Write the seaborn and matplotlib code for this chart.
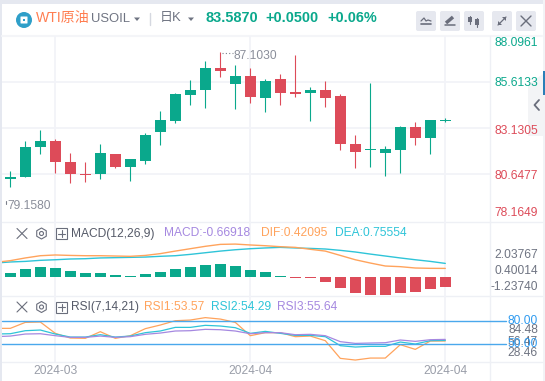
import matplotlib
matplotlib.use('Agg')
import numpy as np
import pandas as pd
import matplotlib.pyplot as plt
import seaborn as sns
from matplotlib.patches import FancyBboxPatch, Polygon, Circle, Rectangle, RegularPolygon

# candles
opens = [80.41, 80.50, 82.12, 82.45, 81.31, 80.67, 80.67, 81.75, 81.04, 81.37,
         82.93, 83.53, 84.93, 85.20, 86.39, 85.52, 85.95, 84.77, 85.79, 85.09,
         85.04, 85.20, 84.88, 82.29, 81.96, 81.80, 81.96, 83.20, 82.61, 83.54]
closes = [80.50, 82.12, 82.45, 81.31, 80.67, 80.63, 81.80, 81.04, 81.48, 82.77,
          83.58, 84.98, 85.20, 86.39, 86.22, 85.95, 84.82, 85.68, 85.04, 84.98,
          85.20, 84.77, 82.29, 81.85, 82.02, 82.02, 83.20, 82.61, 83.58, 83.60]
highs = [80.83, 82.45, 83.04, 82.55, 81.80, 81.31, 82.29, 81.75, 81.48, 82.88,
         84.07, 85.04, 85.74, 86.76, 87.25, 86.55, 86.39, 85.79, 86.06, 87.09,
         85.36, 85.68, 84.98, 82.77, 85.58, 82.18, 83.26, 83.47, 83.58, 83.69]
lows = [79.98, 80.50, 81.75, 80.72, 80.18, 80.23, 80.40, 80.99, 80.29, 81.21,
        82.23, 83.42, 84.39, 84.23, 85.90, 84.17, 84.50, 84.01, 84.39, 84.82,
        83.53, 84.28, 81.96, 80.99, 81.04, 80.56, 80.72, 82.23, 81.75, 83.47]

# MACD
macd_hist = [0.246, 0.536, 0.67, 0.603, 0.402, 0.268, 0.268, 0.134, 0.067, 0.2,
             0.335, 0.536, 0.67, 0.804, 0.871, 0.737, 0.469, 0.335, 0.067, -0.045,
             -0.09, -0.335, -0.737, -1.07, -1.205, -1.205, -1.07, -1.0, -0.80, -0.669]
# lines start one day before the first candle
dif = [0.826, 0.94, 1.12, 1.27, 1.32, 1.29, 1.27, 1.27, 1.25, 1.23, 1.29,
       1.41, 1.58, 1.74, 1.90, 2.03, 2.05, 1.99, 1.94, 1.875, 1.83,
       1.70, 1.58, 1.29, 1.00, 0.78, 0.58, 0.536, 0.446, 0.424, 0.42]
dea = [0.78, 0.85, 0.89, 0.96, 1.00, 1.05, 1.07, 1.12, 1.14, 1.16, 1.18,
       1.23, 1.27, 1.36, 1.47, 1.58, 1.67, 1.74, 1.79, 1.83, 1.79,
       1.76, 1.72, 1.63, 1.52, 1.38, 1.25, 1.12, 1.00, 0.89, 0.755]

# RSI
rsi1 = [70.3, 70.3, 78.2, 78.7, 63.7, 57.5, 57.1, 65.9, 57.1, 60.6, 69.9,
        74.7, 80.4, 81.3, 84.5, 82.6, 78.2, 60.6, 64.6, 64.6, 59.3,
        60.1, 54.0, 30.6, 28.4, 31.0, 31.0, 48.7, 42.5, 53.5, 53.6]
rsi2 = [62.8, 63.2, 67.2, 68.1, 62.8, 58.8, 58.8, 61.9, 58.8, 60.1, 64.6,
        66.8, 71.6, 71.6, 74.3, 73.4, 71.2, 63.7, 66.3, 63.7, 61.0,
        61.0, 59.3, 47.4, 45.6, 46.5, 46.5, 52.2, 49.6, 54.0, 54.3]
rsi3 = [59.3, 60.1, 62.8, 63.2, 60.6, 58.4, 58.4, 60.1, 58.4, 59.3, 62.4,
        64.1, 66.8, 67.2, 69.0, 68.5, 66.8, 63.2, 64.6, 64.6, 61.9,
        62.4, 60.6, 52.7, 50.4, 50.9, 51.3, 54.9, 53.1, 55.3, 55.7]

price_grid = [85.6133, 83.1305, 80.6477]
price_labels = ['88.0961', '85.6133', '83.1305', '80.6477', '78.1649']
macd_labels = ['2.03767', '0.40014', '-1.23740']
rsi_labels = ['84.48', '56.47', '28.46']
rsi_levels = [80, 50]
date_ticks = [3, 16, 29]
date_labels = ['2024-03', '2024-04', '2024-04']

GREEN = '#0aa88c'
RED = '#dd4b59'
ORANGE = '#ffa35c'
CYAN = '#2ec4d8'
PURPLE = '#a588e0'
GRID = '#f2f3f8'
GREY = '#6f7482'
LIGHT = '#9a9ea9'
BLUE = '#4aa8ec'

sns.set_theme(style='white')
plt.rcParams['font.family'] = ['Liberation Sans', 'Noto Sans CJK SC', 'DejaVu Sans']

W, H = 545, 381
fig = plt.figure(figsize=(W / 100, H / 100), dpi=100, facecolor='white')


def px(v):
    # font size in points for a height given in pixels
    return v * 72 / 100


def panel(top, bottom, ylim):
    ax = fig.add_axes([2 / W, 1 - bottom / H, 488 / W, (bottom - top) / H])
    ax.set_xlim((2 - 10.3) / 15, (490 - 10.3) / 15)
    ax.set_ylim(*ylim)
    ax.patch.set_alpha(0)
    for s in ax.spines.values():
        s.set_visible(False)
    ax.set_yticks([])
    ax.set_xticks(date_ticks)
    ax.set_xticklabels([])
    ax.tick_params(length=0)
    for t in date_ticks:
        ax.axvline(t, color=GRID, lw=1.3, zorder=0)
    ax.set_xlabel('')
    ax.set_ylabel('')
    return ax


# page behind the card and all the furniture, in pixel coordinates
bg = fig.add_axes([0, 0, 1, 1], zorder=-1)
bg.set_xlim(0, W)
bg.set_ylim(H, 0)
bg.axis('off')
bg.add_patch(Rectangle((0, 0), W, 4, color='#e5e8f0', lw=0))
bg.add_patch(Rectangle((0, 0), 2, H, color='#e5e8f0', lw=0))
bg.add_patch(Rectangle((542.5, 0), 3, H, color='#f2f3f6', lw=0))
bg.add_patch(Rectangle((543, 71), 2, 24, color='#2a7fb8', lw=0))
bg.plot([2, 542], [35.5, 35.5], color='#f4f5f8', lw=1.5)
for y in [222.3, 295.7, 362.3]:
    bg.plot([2, 542], [y, y], color='#eef0f5', lw=1)
bg.plot([490, 490], [36, H], color='#eef0f5', lw=1)

# price panel
ax1 = panel(36, 222.3, (78.06, 88.11))
for g in price_grid:
    ax1.axhline(g, color=GRID, lw=1.3, zorder=0)
days = np.arange(len(opens))
col = [GREEN if c >= o else RED for o, c in zip(opens, closes)]
ax1.vlines(days, lows, highs, colors=col, lw=0.8, zorder=2)
ax1.bar(days, np.abs(np.array(closes) - np.array(opens)), bottom=np.minimum(opens, closes),
        width=0.73, color=col, lw=0, zorder=3)

# MACD panel
ax2 = panel(222.3, 295.7, (-1.41, 3.51))
hist = np.array(macd_hist)
# the histogram sits a little under the zero of the two lines in the original
ax2.bar(days, hist, bottom=-0.156, width=0.73, lw=0,
        color=[GREEN if h >= 0 else RED for h in hist], zorder=2)
macd_df = pd.DataFrame({'day': np.arange(-1, 30), 'DIF': dif, 'DEA': dea})
sns.lineplot(data=macd_df, x='day', y='DEA', ax=ax2, color=CYAN, lw=1, zorder=3)
sns.lineplot(data=macd_df, x='day', y='DIF', ax=ax2, color=ORANGE, lw=1, zorder=3)
ax2.set_xlabel('')
ax2.set_ylabel('')

# RSI panel
ax3 = panel(295.7, 362.3, (25.4, 113.5))
rsi_df = pd.DataFrame({'day': np.arange(-1, 30), 'RSI1': rsi1, 'RSI2': rsi2, 'RSI3': rsi3})
sns.lineplot(data=rsi_df, x='day', y='RSI1', ax=ax3, color=ORANGE, lw=0.9, zorder=3)
sns.lineplot(data=rsi_df, x='day', y='RSI2', ax=ax3, color=CYAN, lw=0.9, zorder=3)
sns.lineplot(data=rsi_df, x='day', y='RSI3', ax=ax3, color=PURPLE, lw=0.9, zorder=3)
for lv in rsi_levels:
    ax3.plot([ax3.get_xlim()[0], 33.05], [lv, lv], color=BLUE, lw=1, clip_on=False, zorder=4)
ax3.set_xlabel('')
ax3.set_ylabel('')
ax3.set_xticklabels(date_labels, color=LIGHT, fontsize=px(12))
ax3.tick_params(axis='x', pad=2)

# overlay for the texts and icons
ov = fig.add_axes([0, 0, 1, 1], zorder=10)
ov.set_xlim(0, W)
ov.set_ylim(H, 0)
ov.axis('off')
ov.patch.set_alpha(0)


def label(x, y, s, c, size=12, ha='left', weight='normal'):
    ov.text(x, y, s, color=c, fontsize=px(size), ha=ha, va='center', fontweight=weight)


def tri(x, y, c='#6f7482'):
    ov.add_patch(Polygon([[x - 3, y - 1.5], [x + 3, y - 1.5], [x, y + 2]], color=c, lw=0))


# header
ov.add_patch(Circle((24, 20), 8, color='#2f9fc9', lw=0))
ov.add_patch(FancyBboxPatch((21, 17), 6, 6, boxstyle='round,pad=0.5', fc='white', ec='none'))
ov.add_patch(Rectangle((23, 19), 2, 2, color='#2f9fc9', lw=0))
label(36, 18, 'WTI原油', '#ff7d50', 14)
label(91.5, 19.5, 'USOIL', GREY, 13)
tri(137, 19)
ov.plot([150, 150], [13, 25], color='#d5d8e0', lw=1)
label(160, 18, '日K', GREY, 13)
tri(191, 19)
label(205, 18, '83.5870', GREEN, 14.5, weight='bold')
label(265.5, 18, '+0.0500', GREEN, 14.5, weight='bold')
label(327, 18, '+0.06%', GREEN, 14.5, weight='bold')

# toolbar
for x0 in [416, 440, 464, 492, 516]:
    ov.add_patch(FancyBboxPatch((x0 + 2, 13), 16, 16, boxstyle='round,pad=2', fc='#e6e8ef', ec='none'))
ic = '#6a6e7c'
ov.plot([421, 424, 426, 428, 431], [21, 18, 21, 20, 21], color=ic, lw=0.9)
ov.plot([421, 431], [24, 24], color=ic, lw=1.2)
ov.plot([446, 453], [23, 17], color=ic, lw=2.5, solid_capstyle='butt')
ov.plot([445, 455], [25, 25], color=ic, lw=1.1)
ov.plot([470, 470], [16, 24], color=ic, lw=0.8)
ov.add_patch(Rectangle((468, 17), 4, 5, color=ic, lw=0))
ov.plot([477, 477], [18, 27], color=ic, lw=0.8)
ov.add_patch(Rectangle((475, 19), 4, 6, color=ic, lw=0))
ov.plot([498, 506], [25, 17], color=ic, lw=0.9)
ov.add_patch(Polygon([[502, 17], [506, 17], [506, 21]], color=ic, lw=0))
ov.add_patch(Polygon([[498, 25], [498, 21], [502, 25]], color=ic, lw=0))
ov.plot([521, 531], [16, 26], color=ic, lw=1)
ov.plot([521, 531], [26, 16], color=ic, lw=1)

# collapse handle
ov.add_patch(Polygon([[542.5, 74], [542.5, 136], [528, 136], [528, 84]], color='#f0f1f4', lw=0, alpha=0.75))
ov.plot([539, 534.5, 539], [100, 105, 110], color=ic, lw=1.3)

# axis labels on the right
for y, s, c in zip([43.3, 83.3, 130.6, 176, 212.7], price_labels, [GREEN, GREEN, RED, RED, RED]):
    label(538, y, s, c, ha='right')
for y, s in zip([255.3, 271.3, 287.3], macd_labels):
    label(538, y, s, GREY, ha='right')
for y, s in zip([330, 341.7, 353.3], rsi_labels):
    label(538, y, s, GREY, ha='right')
label(538, 321, '80.00', '#2f9bf0', 12, ha='right')
label(538, 344.3, '50.00', '#2f9bf0', 12, ha='right')

# high / low marks
ov.plot([222, 233], [52.5, 52.5], color='#7c808c', lw=0.8, ls=(0, (1, 2)))
label(233, 56, '87.1030', '#8a8e9a', 12)
ov.plot([5.5, 5.5], [201, 203.5], color='#7c808c', lw=0.8)
label(7.5, 205.7, '79.1580', '#8a8e9a', 12)


def panel_icons(y):
    ov.plot([17, 27], [y - 5, y + 5], color=ic, lw=0.8)
    ov.plot([17, 27], [y + 5, y - 5], color=ic, lw=0.8)
    ov.add_patch(RegularPolygon((41.5, y), 6, radius=5.5, fc='none', ec=ic, lw=0.8))
    ov.add_patch(Circle((41.5, y), 2, fc='none', ec=ic, lw=0.8))
    ov.add_patch(Rectangle((56, y - 5.5), 11, 11, fc='none', ec=ic, lw=0.8))
    ov.plot([58, 65], [y, y], color=ic, lw=0.8)
    ov.plot([61.5, 61.5], [y - 3.5, y + 3.5], color=ic, lw=0.8)


panel_icons(233.5)
label(70.5, 233.5, 'MACD(12,26,9)', '#555a68', 12)
label(164, 233.5, 'MACD:-0.66918', PURPLE, 12)
label(261, 233.5, 'DIF:0.42095', ORANGE, 12)
label(335, 233.5, 'DEA:0.75554', CYAN, 12)
panel_icons(307)
label(70.5, 307, 'RSI(7,14,21)', '#555a68', 12)
label(144, 307, 'RSI1:53.57', ORANGE, 12)
label(211, 307, 'RSI2:54.29', CYAN, 12)
label(277, 307, 'RSI3:55.64', PURPLE, 12)

fig.savefig('out.png', dpi=100, facecolor=fig.get_facecolor())
